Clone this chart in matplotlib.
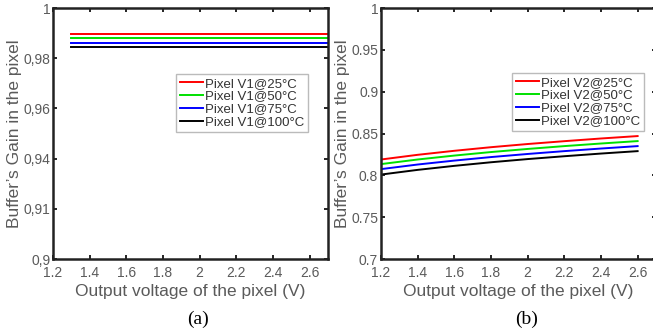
import matplotlib
matplotlib.use("Agg")
import matplotlib.pyplot as plt

# panel (a): pixel V1, flat gain
v1_x = [1.3, 2.7]
v1_gain = {
    "25": [0.9898, 0.9898],
    "50": [0.9879, 0.9879],
    "75": [0.9862, 0.9862],
    "100": [0.9843, 0.9843],
}
v1_yticks = [0.90, 0.92, 0.94, 0.96, 0.98, 1.0]
v1_yticklabels = ["0,9", "0,91", "0,94", "0,96", "0,98", "1"]

# panel (b): pixel V2
v2_x = [1.2, 1.4, 1.6, 1.8, 2.0, 2.2, 2.4, 2.6]
v2_gain = {
    "25": [0.819, 0.8246, 0.8294, 0.8337, 0.8375, 0.8409, 0.8441, 0.847],
    "50": [0.8135, 0.8190, 0.8237, 0.8279, 0.8316, 0.8350, 0.8381, 0.841],
    "75": [0.8075, 0.8130, 0.8177, 0.8219, 0.8256, 0.8290, 0.8321, 0.835],
    "100": [0.801, 0.8066, 0.8114, 0.8157, 0.8195, 0.8229, 0.8261, 0.829],
}
v2_yticks = [0.7, 0.75, 0.8, 0.85, 0.9, 0.95, 1.0]
v2_yticklabels = ["0.7", "0.75", "0.8", "0.85", "0.9", "0.95", "1"]

xticks = [1.2, 1.4, 1.6, 1.8, 2, 2.2, 2.4, 2.6]
xticklabels = ["1.2", "1.4", "1.6", "1.8", "2", "2.2", "2.4", "2.6"]

colors = {"25": "#ff0000", "50": "#00e000", "75": "#0000ff", "100": "#000000"}
gray = "#5a5a5a"

plt.rcParams["font.family"] = ["Liberation Sans", "DejaVu Sans"]

fig = plt.figure(figsize=(6.53, 3.36), dpi=100)
ax1 = fig.add_axes([0.0812, 0.229, 0.421, 0.747])
ax2 = fig.add_axes([0.5835, 0.229, 0.421, 0.747])


def style(ax, yticks, yticklabels):
    ax.set_xlim(1.2, 2.7)
    ax.set_xticks(xticks)
    ax.set_xticklabels(xticklabels)
    ax.set_yticks(yticks)
    ax.set_yticklabels(yticklabels)
    ax.tick_params(direction="in", length=3, width=1.2, top=True, right=True,
                   labelsize=10, labelcolor=gray, pad=2)
    ax.tick_params(axis="x", pad=5)
    for s in ax.spines.values():
        s.set_linewidth(1.8)
        s.set_color("#222222")
    ax.set_xlabel("Output voltage of the pixel (V)", fontsize=12.5, color=gray, labelpad=3)
    ax.set_ylabel("Buffer\u2019s Gain in the pixel", fontsize=12.5, color=gray, labelpad=1)


for t in ["25", "50", "75", "100"]:
    ax1.plot(v1_x, v1_gain[t], color=colors[t], lw=1.4, label="Pixel V1@" + t + "\u00b0C")
ax1.set_ylim(0.9, 1.0)
style(ax1, v1_yticks, v1_yticklabels)

for t in ["25", "50", "75", "100"]:
    ax2.plot(v2_x, v2_gain[t], color=colors[t], lw=1.4, label="Pixel V2@" + t + "\u00b0C")
ax2.set_ylim(0.7, 1.0)
style(ax2, v2_yticks, v2_yticklabels)

for ax, anchor in ((ax1, (0.927, 0.737)), (ax2, (0.956, 0.741))):
    leg = ax.legend(loc="upper right", bbox_to_anchor=anchor, fontsize=9.5,
                    frameon=True, fancybox=False, handlelength=1.8, handletextpad=0.15,
                    labelspacing=0.05, borderpad=0.25, borderaxespad=0)
    leg.get_frame().set_edgecolor("#aaaaaa")
    leg.get_frame().set_linewidth(1.0)
    for txt in leg.get_texts():
        txt.set_color("#333333")

fig.text(0.303, 0.025, "(a)", ha="center", va="bottom", fontsize=14,
         family=["Liberation Serif", "DejaVu Serif"])
fig.text(0.806, 0.025, "(b)", ha="center", va="bottom", fontsize=14,
         family=["Liberation Serif", "DejaVu Serif"])

fig.savefig("out.png", dpi=100)
